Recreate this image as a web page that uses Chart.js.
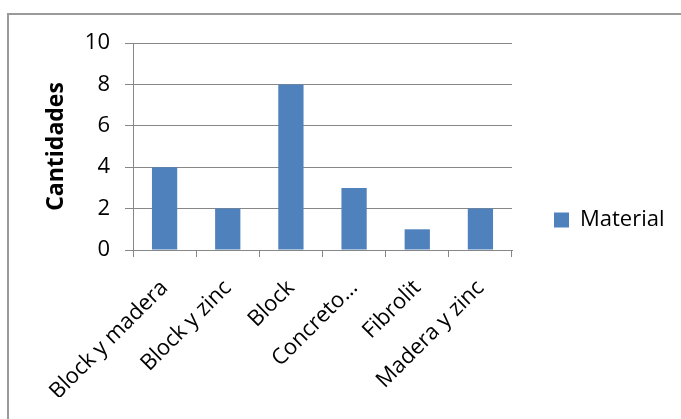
<!DOCTYPE html>
<html>
<head>
<meta charset="utf-8">
<script src="https://cdn.jsdelivr.net/npm/chart.js@4/dist/chart.umd.min.js"></script>
<style>
  html, body { margin: 0; padding: 0; background: #fff; overflow: hidden; }
  #frame {
    position: absolute; left: 7px; top: 13px; width: 720px; height: 460px;
    border: 2px solid #9a9a9a; box-sizing: border-box;
  }
  #wrap { position: absolute; left: 0; top: 0; width: 681px; height: 419px; }
</style>
</head>
<body>
<div id="frame"></div>
<div id="wrap"><canvas id="chart" width="681" height="419"></canvas></div>
<script>
const categories = ['Block y madera', 'Block y zinc', 'Block', 'Concreto…', 'Fibrolit', 'Madera y zinc'];
const materialValues = [4, 2, 8, 3, 1, 2];
const seriesName = 'Material';
const yTitle = 'Cantidades';

const FONT = "'Open Sans', 'DejaVu Sans', sans-serif";
const AXIS_GRAY = '#878787';

// Plot-area geometry
const PLOT_LEFT = 133;
const PLOT_BOTTOM = 250;
const PAD = { top: 43, left: 38, right: 11, bottom: 22 };

new Chart(document.getElementById('chart'), {
  type: 'bar',
  data: {
    labels: categories,
    datasets: [{
      label: seriesName,
      data: materialValues,
      backgroundColor: '#4F81BD',
      borderWidth: 0,
      barPercentage: 0.4,
      categoryPercentage: 1.0
    }]
  },
  options: {
    responsive: false,
    animation: false,
    devicePixelRatio: 1,
    layout: { padding: PAD },
    plugins: {
      tooltip: { enabled: false },
      legend: {
        position: 'right',
        align: 'center',
        labels: {
          boxWidth: 15,
          boxHeight: 15,
          color: '#000',
          font: { family: FONT, size: 22 },
          padding: 42
        }
      }
    },
    scales: {
      x: {
        grid: {
          display: true,
          offset: true,
          drawOnChartArea: false,
          drawTicks: true,
          tickLength: 7,
          color: AXIS_GRAY,
          lineWidth: 1
        },
        border: { display: true, color: AXIS_GRAY, width: 1 },
        ticks: {
          color: '#000',
          font: { family: FONT, size: 22 },
          maxRotation: 45,
          minRotation: 45,
          autoSkip: false,
          padding: 18
        },
        afterFit(scale) {
          scale.height = 419 - PAD.bottom - PLOT_BOTTOM;
        }
      },
      y: {
        min: 0,
        max: 10,
        ticks: {
          stepSize: 2,
          color: '#000',
          font: { family: FONT, size: 22 },
          padding: 15
        },
        grid: {
          color: AXIS_GRAY,
          lineWidth: 1,
          drawTicks: true,
          tickLength: 8
        },
        border: { display: true, color: AXIS_GRAY, width: 1 },
        title: {
          display: true,
          text: yTitle,
          color: '#000',
          font: { family: FONT, size: 23, weight: 'bold' },
          padding: { top: 5, bottom: 0 }
        },
        afterFit(scale) {
          scale.width = PLOT_LEFT - PAD.left;
        }
      }
    }
  }
});
</script>
</body>
</html>
